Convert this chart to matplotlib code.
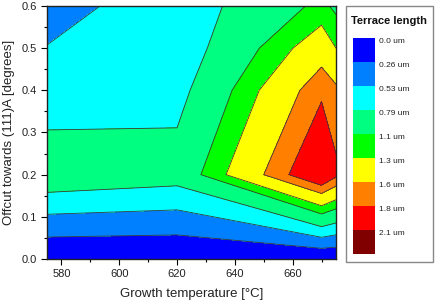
import matplotlib
matplotlib.use("Agg")
import matplotlib.pyplot as plt
from matplotlib.ticker import MultipleLocator, FormatStrFormatter
from matplotlib.patches import Rectangle
import numpy as np

plt.rcParams['font.family'] = ['Liberation Sans', 'DejaVu Sans']

# data (terrace length in um on a coarse grid)
temperature = [575, 620, 670, 675]
offcut = [0.0, 0.2, 0.4, 0.5, 0.6]
terrace = [
    [0.00, 0.00, 0.00, 0.00],
    [1.00, 0.91, 2.06, 1.85],
    [0.604, 0.694, 1.76, 1.65],
    [0.535, 0.61, 1.47, 1.30],
    [0.468, 0.62, 1.16, 1.05],
]
levels = [0.0, 0.26, 0.53, 0.79, 1.1, 1.3, 1.6, 1.8, 2.1, 2.4]
level_labels = ['0.0 um', '0.26 um', '0.53 um', '0.79 um', '1.1 um',
                '1.3 um', '1.6 um', '1.8 um', '2.1 um']
colors = ['#0000ff', '#0080ff', '#00ffff', '#00ff80', '#00ff00',
          '#ffff00', '#ff8000', '#ff0000', '#800000']

W, H = 436, 304
fig = plt.figure(figsize=(W / 100, H / 100), dpi=100)
ax = fig.add_axes([47 / W, 45 / H, 289 / W, 253 / H])

cs = ax.contourf(temperature, offcut, np.array(terrace), levels=levels, colors=colors)
ax.contour(temperature, offcut, np.array(terrace), levels=levels[1:-1],
           colors='#3a3a3a', linewidths=0.6)

ax.set_xlim(575, 675)
ax.set_ylim(0, 0.6)
ax.set_xticks([580, 600, 620, 640, 660])
ax.xaxis.set_minor_locator(MultipleLocator(10))
ax.yaxis.set_major_locator(MultipleLocator(0.1))
ax.yaxis.set_minor_locator(MultipleLocator(0.05))
ax.yaxis.set_major_formatter(FormatStrFormatter('%.1f'))
ax.tick_params(which='both', direction='out', top=False, right=False,
               labelsize=8, labelcolor='#222222', width=0.8)
ax.tick_params(which='major', length=4, pad=3)
ax.tick_params(which='minor', length=2)
for s in ax.spines.values():
    s.set_linewidth(1.0)
    s.set_color('#222222')

ax.set_xlabel('Growth temperature [°C]', fontsize=9.5, labelpad=7, color='#222222')
ax.set_ylabel('Offcut towards (111)A [degrees]', fontsize=9.5, labelpad=5, color='#222222')

# legend box with stacked colour blocks
fig.patches.append(Rectangle((346 / W, 1 - 262 / H), 87 / W, 256 / H,
                             transform=fig.transFigure, facecolor='white',
                             edgecolor='#888888', linewidth=1.0, zorder=-1))
fig.text(389 / W, 1 - 20.7 / H, 'Terrace length', ha='center', va='center',
         fontsize=8, fontweight='bold', color='#111111')
cax = fig.add_axes([353.3 / W, 1 - 254 / H, 22 / W, 215.7 / H])
cax.set_zorder(2)
cbar = fig.colorbar(cs, cax=cax, ticks=levels[:-1])
cax.invert_yaxis()
cbar.outline.set_visible(False)
cbar.set_ticklabels(level_labels)
cax.tick_params(length=0, labelsize=6, pad=3, labelcolor='#222222')
for lab in cax.get_yticklabels():
    lab.set_va('top')

fig.savefig('out.png', dpi=100)
